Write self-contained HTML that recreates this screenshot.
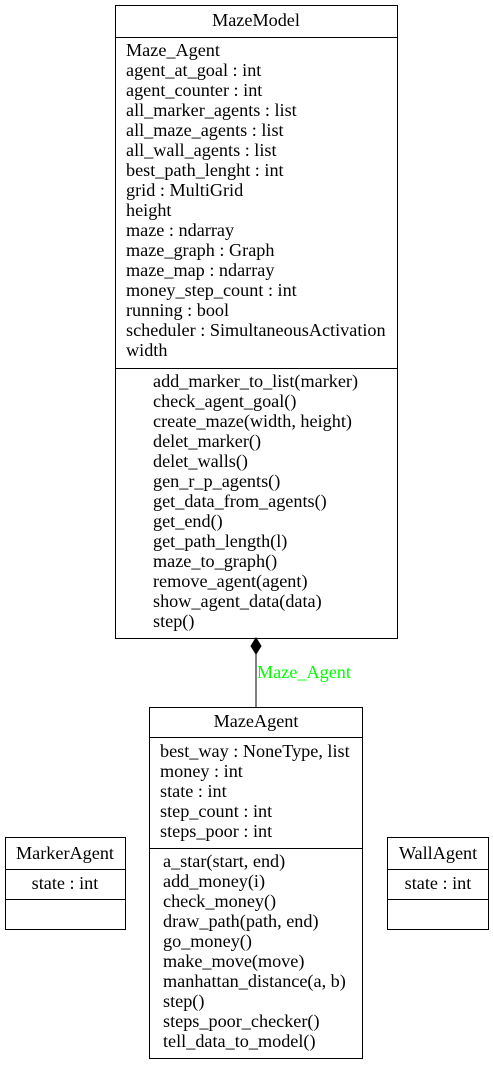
<!DOCTYPE html>
<html><head><meta charset="utf-8"><style>
html,body{margin:0;padding:0;background:#fff;}
svg{display:block;}
text{font-family:"Liberation Serif",serif;font-size:18.2px;fill:#000;}
</style></head><body>
<svg width="493" height="1065" viewBox="0 0 493 1065" xmlns="http://www.w3.org/2000/svg">
<rect x="0" y="0" width="493" height="1065" fill="#fff"/>
<rect x="115.5" y="5.5" width="282" height="633" fill="none" stroke="#000"/>
<line x1="115.5" y1="37.5" x2="397.5" y2="37.5" stroke="#000"/>
<line x1="115.5" y1="368.5" x2="397.5" y2="368.5" stroke="#000"/>
<text x="256" y="26" text-anchor="middle">MazeModel</text>
<g>
<text x="126" y="56">Maze_Agent</text>
<text x="126" y="76">agent_at_goal : int</text>
<text x="126" y="96">agent_counter : int</text>
<text x="126" y="116">all_marker_agents : list</text>
<text x="126" y="136">all_maze_agents : list</text>
<text x="126" y="156">all_wall_agents : list</text>
<text x="126" y="176">best_path_lenght : int</text>
<text x="126" y="196">grid : MultiGrid</text>
<text x="126" y="216">height</text>
<text x="126" y="236">maze : ndarray</text>
<text x="126" y="256">maze_graph : Graph</text>
<text x="126" y="276">maze_map : ndarray</text>
<text x="126" y="296">money_step_count : int</text>
<text x="126" y="316">running : bool</text>
<text x="126" y="336">scheduler : SimultaneousActivation</text>
<text x="126" y="356">width</text>
</g>
<g>
<text x="153" y="387">add_marker_to_list(marker)</text>
<text x="153" y="407">check_agent_goal()</text>
<text x="153" y="427">create_maze(width, height)</text>
<text x="153" y="447">delet_marker()</text>
<text x="153" y="467">delet_walls()</text>
<text x="153" y="487">gen_r_p_agents()</text>
<text x="153" y="507">get_data_from_agents()</text>
<text x="153" y="527">get_end()</text>
<text x="153" y="547">get_path_length(l)</text>
<text x="153" y="567">maze_to_graph()</text>
<text x="153" y="587">remove_agent(agent)</text>
<text x="153" y="607">show_agent_data(data)</text>
<text x="153" y="627">step()</text>
</g>
<line x1="256" y1="654" x2="256" y2="707" stroke="#000"/>
<polygon points="256,638 261,646 256,654 251,646" fill="#000" stroke="#000"/>
<text x="257" y="678" style="fill:#00ff00">Maze_Agent</text>
<rect x="149.5" y="707.5" width="213" height="351" fill="none" stroke="#000"/>
<line x1="149.5" y1="737.5" x2="362.5" y2="737.5" stroke="#000"/>
<line x1="149.5" y1="848.5" x2="362.5" y2="848.5" stroke="#000"/>
<text x="256" y="727" text-anchor="middle">MazeAgent</text>
<text x="160" y="757">best_way : NoneType, list</text>
<text x="160" y="777">money : int</text>
<text x="160" y="797">state : int</text>
<text x="160" y="817">step_count : int</text>
<text x="160" y="837">steps_poor : int</text>
<text x="163" y="867">a_star(start, end)</text>
<text x="163" y="887">add_money(i)</text>
<text x="163" y="907">check_money()</text>
<text x="163" y="927">draw_path(path, end)</text>
<text x="163" y="947">go_money()</text>
<text x="163" y="967">make_move(move)</text>
<text x="163" y="987">manhattan_distance(a, b)</text>
<text x="163" y="1007">step()</text>
<text x="163" y="1027">steps_poor_checker()</text>
<text x="163" y="1047">tell_data_to_model()</text>
<rect x="5.5" y="837.5" width="120" height="92" fill="none" stroke="#000"/>
<line x1="5.5" y1="869.5" x2="125.5" y2="869.5" stroke="#000"/>
<line x1="5.5" y1="899.5" x2="125.5" y2="899.5" stroke="#000"/>
<text x="65" y="859" text-anchor="middle">MarkerAgent</text>
<text x="65" y="889" text-anchor="middle">state : int</text>
<rect x="387.5" y="837.5" width="101" height="92" fill="none" stroke="#000"/>
<line x1="387.5" y1="869.5" x2="488.5" y2="869.5" stroke="#000"/>
<line x1="387.5" y1="899.5" x2="488.5" y2="899.5" stroke="#000"/>
<text x="438" y="859" text-anchor="middle">WallAgent</text>
<text x="438" y="889" text-anchor="middle">state : int</text>
</svg>
</body></html>
